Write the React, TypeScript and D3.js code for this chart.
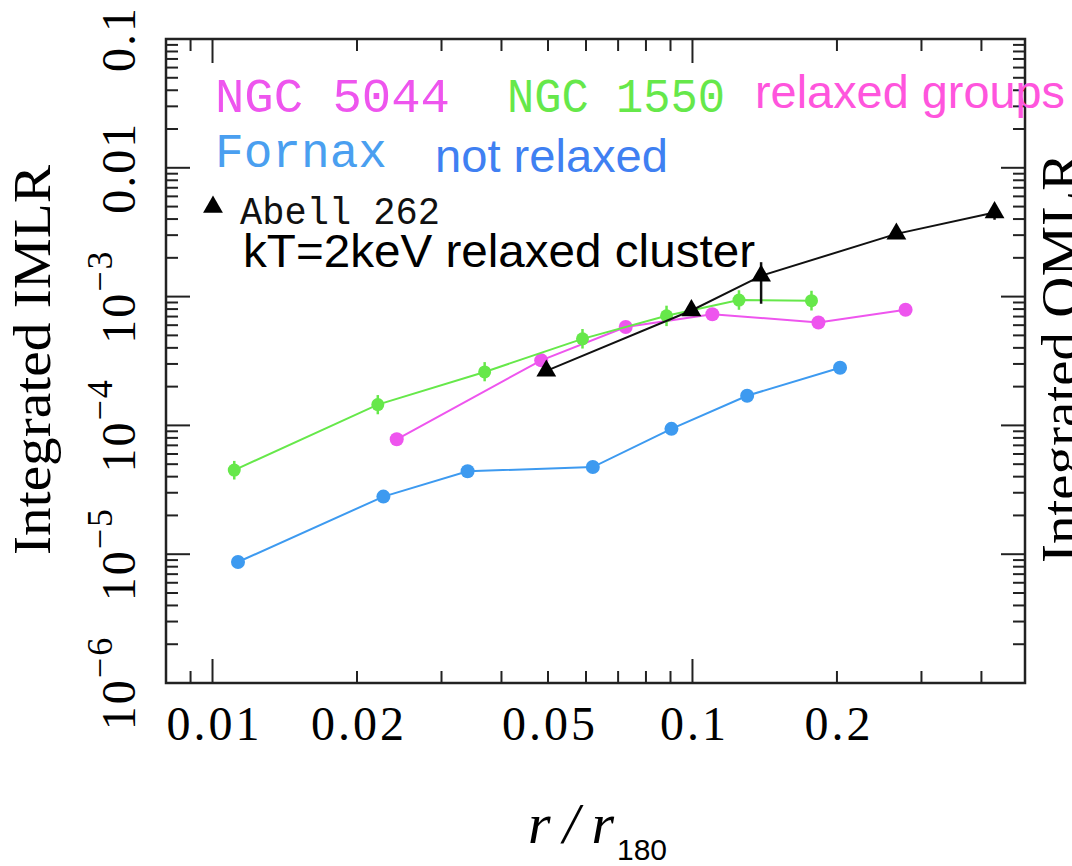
import { line, scaleLog, symbol, symbolTriangle } from "d3";

const WIDTH = 1072
const HEIGHT = 866
const FRAME = { left: 166, right: 1025, top: 39, bottom: 683 }

// Fornax (not relaxed)
const fornaxR = [0.0113, 0.0227, 0.034, 0.062, 0.0904, 0.13, 0.203]
const fornaxIMLR = [8.7e-6, 2.8e-5, 4.4e-5, 4.75e-5, 9.4e-5, 1.7e-4, 2.8e-4]

// NGC 5044 (relaxed group)
const ngc5044R = [0.0242, 0.0484, 0.0726, 0.11, 0.183, 0.278]
const ngc5044IMLR = [7.8e-5, 3.2e-4, 5.8e-4, 7.3e-4, 6.3e-4, 7.9e-4]

// NGC 1550 (relaxed group), with error bars
const ngc1550R = [0.0111, 0.0221, 0.0369, 0.059, 0.0883, 0.125, 0.177]
const ngc1550IMLR = [4.5e-5, 1.45e-4, 2.6e-4, 4.7e-4, 7.1e-4, 9.4e-4, 9.3e-4]
const ngc1550Lo = [3.8e-5, 1.22e-4, 2.2e-4, 3.95e-4, 5.9e-4, 7.9e-4, 7.8e-4]
const ngc1550Hi = [5.3e-5, 1.72e-4, 3.1e-4, 5.6e-4, 8.5e-4, 1.12e-3, 1.11e-3]

// Abell 262 (kT=2keV relaxed cluster)
const abellR = [0.0496, 0.0995, 0.139, 0.266, 0.426]
const abellIMLR = [2.65e-4, 7.8e-4, 1.45e-3, 3.07e-3, 4.5e-3]
const abellLo = [2.65e-4, 7.8e-4, 8.8e-4, 2.8e-3, 3.95e-3]
const abellHi = [2.65e-4, 7.8e-4, 1.85e-3, 3.35e-3, 5.1e-3]

// axis labels
const xTickValues = [0.01, 0.02, 0.05, 0.1, 0.2]
const xTickLabels = ["0.01", "0.02", "0.05", "0.1", "0.2"]
const yTickValues = [1e-6, 1e-5, 1e-4, 1e-3, 0.01, 0.1]
const yTickBase = ["10", "10", "10", "10", "0.01", "0.1"]
const yTickSup = ["\u22126", "\u22125", "\u22124", "\u22123", "", ""]

const BLUE = '#3d9af0'
const MAGENTA = '#ee55ee'
const GREEN = '#66e84a'

const SERIF = '"Liberation Serif", "Times New Roman", serif'
const SANS = '"Liberation Sans", Arial, sans-serif'
const MONO = '"Liberation Mono", "Courier New", monospace'

function zip(xs: number[], ys: number[]): [number, number][] {
    return xs.map((x, i) => [x, ys[i]])
}

function App() {
    const xScale = scaleLog()
                    .domain([0.008, 0.493])
                    .range([FRAME.left, FRAME.right])
    const yScale = scaleLog()
                    .domain([1e-6, 0.1])
                    .range([FRAME.bottom, FRAME.top])

    const linePath = line<[number, number]>()
                .x((d) => xScale(d[0]))
                .y((d) => yScale(d[1]))

    const tri = symbol().type(symbolTriangle).size(170)()

    const isMajor = (v: number) => Math.abs(Math.log10(v) - Math.round(Math.log10(v))) < 1e-6

    const xTicks = xScale.ticks().filter((v) => xScale(v) > FRAME.left + 2 && xScale(v) < FRAME.right - 2)
    const yTicks = yScale.ticks().filter((v) => yScale(v) < FRAME.bottom - 2 && yScale(v) > FRAME.top + 2)

    const tickMarks = (
        <g stroke={'#222'} strokeWidth={2}>
            {xTicks.map((v, i) => {
                const len = isMajor(v) ? 24 : 12
                const x = xScale(v)
                return (
                    <g key={'x' + i}>
                        <line x1={x} x2={x} y1={FRAME.bottom} y2={FRAME.bottom - len} />
                        <line x1={x} x2={x} y1={FRAME.top} y2={FRAME.top + len} />
                    </g>
                )
            })}
            {yTicks.map((v, i) => {
                const len = isMajor(v) ? 24 : 12
                const y = yScale(v)
                return (
                    <g key={'y' + i}>
                        <line x1={FRAME.left} x2={FRAME.left + len} y1={y} y2={y} />
                        <line x1={FRAME.right} x2={FRAME.right - len} y1={y} y2={y} />
                    </g>
                )
            })}
        </g>
    )

    const xLabels = xTickValues.map((v, i) => (
        <text
            key={i}
            x={xScale(v) + 2}
            y={740}
            textAnchor={'middle'}
            fontFamily={SERIF}
            fontSize={48}
            letterSpacing={3}
            fill={'#000'}
        >
            {xTickLabels[i]}
        </text>
    ))

    const yLabels = yTickValues.map((v, i) => (
        <text
            key={i}
            transform={`translate(135,${yScale(v)}) rotate(-90)`}
            textAnchor={'middle'}
            fontFamily={SERIF}
            fontSize={48}
            letterSpacing={2}
            fill={'#000'}
        >
            {yTickBase[i]}
            {yTickSup[i] !== '' && (
                <tspan dy={-23} fontSize={36}>{yTickSup[i]}</tspan>
            )}
        </text>
    ))

    const fornaxPts = zip(fornaxR, fornaxIMLR)
    const n5044Pts = zip(ngc5044R, ngc5044IMLR)
    const n1550Pts = zip(ngc1550R, ngc1550IMLR)
    const abellPts = zip(abellR, abellIMLR)

    return (
        <svg
            width={WIDTH}
            height={HEIGHT}
            viewBox={`0 0 ${WIDTH} ${HEIGHT}`}
            style={{ position: 'absolute', left: 0, top: 0, background: '#fff' }}
        >
            <rect width={WIDTH} height={HEIGHT} fill={'#fff'} />

            {/* Fornax */}
            <path d={linePath(fornaxPts) ?? ''} fill='none' stroke={BLUE} strokeWidth={2} />
            {fornaxPts.map((d, i) => (
                <circle key={i} cx={xScale(d[0])} cy={yScale(d[1])} r={7} fill={BLUE} />
            ))}

            {/* NGC 5044 */}
            <path d={linePath(n5044Pts) ?? ''} fill='none' stroke={MAGENTA} strokeWidth={2} />
            {n5044Pts.map((d, i) => (
                <circle key={i} cx={xScale(d[0])} cy={yScale(d[1])} r={7} fill={MAGENTA} />
            ))}

            {/* NGC 1550 */}
            <path d={linePath(n1550Pts) ?? ''} fill='none' stroke={GREEN} strokeWidth={2} />
            {n1550Pts.map((d, i) => (
                <g key={i}>
                    <line
                        x1={xScale(d[0])}
                        x2={xScale(d[0])}
                        y1={yScale(ngc1550Lo[i])}
                        y2={yScale(ngc1550Hi[i])}
                        stroke={GREEN}
                        strokeWidth={2.5}
                    />
                    <circle cx={xScale(d[0])} cy={yScale(d[1])} r={6.5} fill={GREEN} />
                </g>
            ))}

            {/* Abell 262 */}
            <path d={linePath(abellPts) ?? ''} fill='none' stroke={'#111'} strokeWidth={2} />
            {abellPts.map((d, i) => (
                <g key={i}>
                    {abellHi[i] !== abellLo[i] && (
                        <line
                            x1={xScale(d[0])}
                            x2={xScale(d[0])}
                            y1={yScale(abellLo[i])}
                            y2={yScale(abellHi[i])}
                            stroke={'#111'}
                            strokeWidth={2.5}
                        />
                    )}
                    <path d={tri ?? ''} transform={`translate(${xScale(d[0])},${yScale(d[1])})`} fill={'#000'} />
                </g>
            ))}

            {/* frame and ticks */}
            <rect
                x={FRAME.left}
                y={FRAME.top}
                width={FRAME.right - FRAME.left}
                height={FRAME.bottom - FRAME.top}
                fill='none'
                stroke={'#222'}
                strokeWidth={2.5}
            />
            {tickMarks}
            <g>{xLabels}</g>
            <g>{yLabels}</g>

            {/* axis titles */}
            <text
                transform={'translate(50,360) rotate(-90)'}
                textAnchor={'middle'}
                fontFamily={SERIF}
                fontSize={53}
                textLength={390}
                lengthAdjust={'spacingAndGlyphs'}
                fill={'#000'}
            >
                Integrated IMLR
            </text>
            <text
                transform={'translate(1078,358) rotate(-90)'}
                textAnchor={'middle'}
                fontFamily={SERIF}
                fontSize={53}
                textLength={410}
                lengthAdjust={'spacingAndGlyphs'}
                fill={'#000'}
            >
                Integrated OMLR
            </text>
            <text x={528} y={843} fontFamily={SERIF} fontSize={58} fill={'#000'}>
                <tspan fontStyle={'italic'} textLength={86} lengthAdjust={'spacing'}>r/r</tspan>
                <tspan x={617} y={860} fontFamily={SANS} fontSize={30}>180</tspan>
            </text>

            {/* legend */}
            <text x={215} y={112} fontFamily={MONO} fontSize={49} textLength={235} lengthAdjust={'spacingAndGlyphs'} fill={MAGENTA}>
                NGC 5044
            </text>
            <text x={507} y={112} fontFamily={MONO} fontSize={49} textLength={218} lengthAdjust={'spacingAndGlyphs'} fill={GREEN}>
                NGC 1550
            </text>
            <text x={755} y={108} fontFamily={SANS} fontSize={47} textLength={310} lengthAdjust={'spacingAndGlyphs'} fill={'#ff55dd'}>
                relaxed groups
            </text>
            <text x={215} y={167} fontFamily={MONO} fontSize={48} textLength={172} lengthAdjust={'spacingAndGlyphs'} fill={'#4a9ff0'}>
                Fornax
            </text>
            <text x={435} y={172} fontFamily={SANS} fontSize={47} textLength={233} lengthAdjust={'spacingAndGlyphs'} fill={'#3f80f2'}>
                not relaxed
            </text>
            <path d={tri ?? ''} transform={'translate(213,207)'} fill={'#000'} />
            <text x={240} y={224} fontFamily={MONO} fontSize={38} textLength={200} lengthAdjust={'spacingAndGlyphs'} fill={'#111'}>
                Abell 262
            </text>
            <text x={243} y={267} fontFamily={SANS} fontSize={47} textLength={512} lengthAdjust={'spacingAndGlyphs'} fill={'#000'}>
                kT=2keV relaxed cluster
            </text>
        </svg>
    )
}

export default App
